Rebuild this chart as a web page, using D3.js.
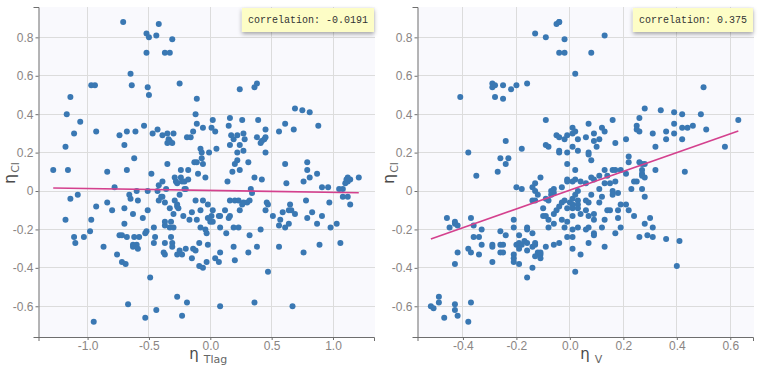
<!DOCTYPE html>
<html><head><meta charset="utf-8">
<script src="https://cdn.jsdelivr.net/npm/d3@7"></script>
<style>body{margin:0;background:#fff} svg{display:block}</style>
</head><body>
<svg id="c" width="768" height="366"></svg>
<script>
// ---- axis settings ----
const etaClTicks = [-0.6,-0.4,-0.2,0,0.2,0.4,0.6,0.8];
const etaClTickLabels = ["-0.6","-0.4","-0.2","0","0.2","0.4","0.6","0.8"];
const etaTlagTicks = [-1.0,-0.5,0,0.5,1.0];
const etaTlagTickLabels = ["-1.0","-0.5","0.0","0.5","1.0"];
const etaVTicks = [-0.4,-0.2,0,0.2,0.4,0.6];
const etaVTickLabels = ["-0.4","-0.2","0.0","0.2","0.4","0.6"];
const etaClDomain = [-0.76, 0.958];
const etaTlagDomain = [-1.40, 1.334];
const etaVDomain = [-0.570, 0.685];
const correlations = ["-0.0191", "0.375"];
const fitTlag = {intercept: 0.003, slope: -0.010};
const fitV = {intercept: 0.005, slope: 0.489};

// ---- data: [eta_Tlag, eta_Cl] ----
const tlagPoints = [
[-0.71,0.88],[-0.52,0.82],[-0.50,0.80],[-0.42,0.87],[-0.44,0.81],[-0.31,0.79],[-0.52,0.72],[-0.37,0.72],[-0.33,0.72],[-0.65,0.61],[-0.64,0.55],[-0.51,0.54],[-0.50,0.50],[-0.25,0.56],[-0.97,0.55],[-0.94,0.55],[-1.14,0.49],[-1.17,0.40],[-0.11,0.48],[-0.12,0.40],
[0.24,0.53],[0.36,0.54],[0.38,0.56],[0.69,0.43],[0.75,0.42],[0.81,0.41],[0.16,0.38],[0.26,0.37],[0.02,0.37],[0.39,0.37],
[-1.06,0.36],[-1.11,0.30],[-0.93,0.31],[-1.18,0.23],[-1.28,0.11],[-1.16,0.11],[-1.14,-0.04],[-1.08,-0.02],[-1.18,-0.15],[-1.11,-0.24],[-1.10,-0.27],[-1.03,-0.24],[-0.97,-0.15],[-0.98,-0.21],[-0.93,-0.08],[-0.87,-0.29],[-0.84,0.10],[-0.84,-0.06],[-0.80,-0.10],[-0.78,0.02],
[-0.74,0.29],[-0.70,0.24],[-0.68,0.11],[-0.68,0.31],[-0.61,0.31],[-0.62,0.17],[-0.54,0.34],[-0.43,0.32],[-0.70,-0.09],[-0.74,-0.23],[-0.72,-0.23],[-0.70,-0.17],[-0.68,-0.24],[-0.66,-0.02],[-0.65,-0.04],[-0.63,-0.12],[-0.62,-0.24],[-0.63,-0.28],[-0.60,-0.28],[-0.59,-0.05],
[-0.58,-0.24],[-0.60,0.00],[-0.55,-0.14],[-0.53,-0.22],[-0.51,0.00],[-0.51,-0.10],[-0.52,-0.21],[-0.48,0.09],[-0.47,0.30],[-0.46,-0.27],[-0.46,-0.19],[-0.45,-0.24],[-0.43,0.00],[-0.42,-0.05],[-0.42,0.03],[-0.40,-0.03],[-0.39,0.29],[-0.39,0.05],[-0.39,-0.03],[-0.37,-0.18],
[-0.37,-0.16],[-0.37,-0.27],[-0.35,0.14],[-0.35,0.25],[-0.35,0.30],[-0.34,0.27],[-0.33,0.26],[-0.31,0.25],[-0.30,0.30],[-0.36,0.01],[-0.37,-0.06],[-0.33,-0.09],[-0.30,-0.12],[-0.32,-0.16],[-0.33,-0.19],[-0.30,-0.19],[-0.32,-0.24],[-0.31,-0.27],[-0.29,0.07],[-0.28,0.05],
[-0.27,0.04],[-0.29,-0.05],[-0.27,-0.07],[-0.27,-0.08],[-0.26,-0.09],[-0.25,-0.02],[-0.24,0.07],[-0.24,0.11],[-0.23,0.05],[-0.22,-0.13],[-0.21,0.01],[-0.21,0.05],[-0.20,0.01],[-0.19,0.28],[-0.18,0.11],[-0.18,0.06],[-0.17,-0.15],[-0.16,0.28],[-0.15,-0.11],[-0.14,0.31],[-0.13,0.15],
[-0.76,-0.33],[-0.72,-0.37],[-0.69,-0.38],[-0.67,-0.59],[-0.95,-0.68],[-0.49,-0.45],[-0.53,-0.66],[-0.44,-0.62],[-0.27,-0.55],[-0.19,-0.58],[-0.23,-0.65],[-0.63,-0.29],[-0.59,-0.30],[-0.38,-0.32],[-0.37,-0.33],[-0.31,-0.29],[-0.27,-0.33],[-0.25,-0.31],[-0.23,-0.33],[-0.20,-0.30],[-0.14,-0.30],[-0.12,-0.31],[-0.15,-0.35],[-0.09,-0.39],
[-0.09,-0.27],[-0.02,-0.28],[-0.06,-0.40],[-0.03,-0.37],[0.04,-0.35],[0.07,-0.37],[0.08,-0.32],[0.19,-0.29],[0.20,-0.36],[0.31,-0.32],[0.38,-0.29],[0.56,-0.29],[0.76,-0.32],[0.89,-0.28],[1.06,-0.27],[0.47,-0.42],[0.08,-0.60],[0.36,-0.58],[0.67,-0.60],
[-0.11,0.35],[-0.06,0.33],[0.01,0.33],[0.04,0.31],[0.15,0.34],[0.17,0.29],[0.22,0.29],[0.27,0.30],[0.28,0.27],[0.38,0.28],[0.42,0.26],[0.44,0.27],[0.45,0.28],[0.45,0.32],[0.41,0.25],[0.56,0.31],[0.61,0.35],[0.68,0.32],[0.88,0.34],[0.19,0.27],[0.16,0.24],[0.24,0.24],[0.27,0.21],
[-0.08,0.22],[-0.07,0.20],[-0.07,0.17],[-0.06,0.14],[-0.01,0.20],[0.05,0.22],[-0.11,0.15],[-0.10,0.09],[-0.04,0.07],[0.14,0.05],[0.18,0.10],[0.20,0.14],[0.22,0.16],[0.24,0.11],[0.22,0.20],[0.31,0.15],[0.36,0.07],[0.42,0.06],[0.33,0.01],[0.34,-0.01],[0.45,0.20],[0.61,0.14],[0.62,0.04],
[0.79,0.15],[0.79,0.11],[0.81,0.07],[0.87,0.09],[0.76,0.05],[0.91,0.02],[0.96,0.02],[1.05,0.01],[1.08,0.01],[1.10,0.04],[1.11,0.06],[1.12,0.05],[1.14,0.06],[1.12,0.07],[1.21,0.07],[1.08,-0.03],[1.12,-0.03],[1.14,-0.07],[0.97,-0.06],[0.78,-0.05],
[-0.12,-0.05],[-0.08,-0.10],[-0.06,-0.05],[-0.02,-0.07],[0.02,-0.10],[0.01,-0.13],[-0.02,-0.14],[0.00,-0.16],[0.02,-0.16],[0.07,-0.13],[0.08,-0.13],[0.12,-0.10],[0.16,-0.13],[0.15,-0.14],[0.16,-0.05],[0.20,-0.05],[0.23,-0.05],[0.27,-0.06],[0.30,-0.06],[0.26,-0.07],[0.24,-0.10],[0.32,-0.05],
[0.46,-0.06],[0.47,-0.07],[0.45,-0.10],[0.51,-0.13],[0.59,-0.11],[0.64,-0.10],[0.65,-0.07],[0.66,-0.10],[0.69,-0.12],[0.57,-0.15],[0.64,-0.17],[0.61,-0.19],[0.56,-0.18],[0.41,-0.20],[0.32,-0.23],[0.23,-0.19],[0.19,-0.19],[0.13,-0.22],[0.08,-0.19],[-0.04,-0.20],[-0.03,-0.22],[-0.08,-0.19],[-0.11,-0.15],
[0.98,-0.19],[1.03,-0.17],[0.87,-0.17],[0.91,-0.13],[0.79,-0.14],[0.83,-0.11]
];

// ---- data: [eta_V, eta_Cl] ----
const vPoints = [
[-0.05,0.87],[-0.04,0.88],[-0.04,0.88],[-0.13,0.82],[-0.09,0.80],[-0.02,0.79],[-0.04,0.72],[-0.02,0.72],[0.02,0.61],[-0.41,0.49],[-0.29,0.56],[-0.29,0.54],[-0.28,0.55],[-0.25,0.55],[-0.28,0.49],[-0.25,0.48],[-0.22,0.53],[-0.20,0.55],[-0.16,0.56],[-0.09,0.37],
[0.13,0.81],[0.08,0.72],[0.50,0.54],[0.28,0.43],[0.34,0.42],[0.39,0.41],[0.42,0.40],[0.49,0.40],[0.26,0.38],[0.16,0.37],[0.63,0.37],
[-0.38,0.20],[-0.35,0.08],[-0.46,-0.14],[-0.45,-0.19],[-0.43,-0.16],[-0.43,-0.17],[-0.42,-0.18],[-0.37,-0.14],[-0.36,-0.18],[-0.33,-0.20],[-0.36,-0.24],[-0.34,-0.24],[-0.24,0.26],[-0.26,0.17],[-0.23,0.17],[-0.24,0.14],[-0.27,0.10],[-0.18,0.22],[-0.20,0.02],[-0.18,0.01],
[-0.21,-0.15],[-0.21,-0.19],[-0.26,-0.21],[-0.24,-0.23],[-0.19,-0.23],[-0.16,-0.19],[-0.16,-0.20],[-0.14,-0.22],[-0.14,0.02],[-0.13,0.04],[-0.13,0.00],[-0.12,-0.02],[-0.14,-0.05],[-0.13,-0.05],[-0.11,0.07],[-0.09,0.24],[-0.08,0.23],
[-0.03,0.02],[-0.06,0.01],[-0.07,0.00],[-0.06,-0.01],[-0.07,-0.02],[-0.09,-0.04],[-0.08,-0.05],[-0.10,-0.09],[-0.10,-0.13],[-0.09,-0.13],[-0.08,-0.15],[-0.06,-0.12],[-0.05,-0.10],[-0.04,-0.08],[-0.03,-0.06],[-0.02,-0.05],[-0.01,-0.09],[0.00,-0.06],[0.01,-0.04],[0.02,-0.02],[0.03,-0.05],[0.03,-0.07],
[-0.01,0.06],[-0.01,0.05],[0.01,0.05],[-0.03,-0.15],[-0.02,-0.19],[-0.01,-0.16],[0.01,-0.13],[0.01,-0.20],[0.03,-0.19],[-0.08,-0.19],[-0.06,-0.17],[-0.01,-0.24],[0.01,-0.24],
[-0.05,0.29],[-0.04,0.28],[-0.02,0.27],[-0.01,0.29],[0.01,0.30],[0.03,0.27],[-0.04,0.21],[-0.04,0.20],[-0.01,0.20],[-0.01,0.14],[0.01,0.23],[0.03,0.21],
[-0.52,-0.60],[-0.51,-0.61],[-0.49,-0.55],[-0.49,-0.58],[-0.47,-0.66],[-0.43,-0.59],[-0.43,-0.62],[-0.42,-0.65],[-0.37,-0.58],[-0.38,-0.68],[-0.43,-0.38],[-0.42,-0.32],[-0.38,-0.30],[-0.37,-0.32],[-0.34,-0.33],[-0.33,-0.28],[-0.29,-0.29],[-0.29,-0.28],[-0.29,-0.37],
[-0.26,-0.28],[-0.25,-0.28],[-0.26,-0.32],[-0.25,-0.32],[-0.21,-0.33],[-0.21,-0.35],[-0.21,-0.37],[-0.19,-0.38],[-0.20,-0.28],[-0.19,-0.27],[-0.18,-0.28],[-0.17,-0.26],[-0.16,-0.27],[-0.19,-0.30],[-0.16,-0.31],[-0.14,-0.29],[-0.13,-0.28],[-0.13,-0.27],
[-0.12,-0.32],[-0.11,-0.33],[-0.13,-0.34],[-0.11,-0.32],[-0.11,-0.35],[-0.14,-0.40],[-0.16,-0.45],[-0.09,-0.29],[-0.06,-0.28],[-0.04,-0.27],[0.01,-0.30],[0.02,-0.42],[0.04,-0.33],[0.07,-0.27],[0.13,-0.29],[0.40,-0.39],
[0.01,0.33],[0.02,0.31],[0.06,0.28],[0.07,0.35],[0.09,0.30],[0.09,0.26],[0.10,0.23],[0.11,0.27],[0.12,0.33],[0.13,0.31],[0.17,0.25],[0.21,0.27],[0.25,0.34],[0.25,0.32],[0.26,0.31],[0.31,0.30],[0.32,0.23],[0.36,0.31],[0.36,0.27],[0.39,0.35],[0.39,0.30],[0.42,0.33],[0.42,0.27],[0.44,0.33],[0.46,0.34],[0.51,0.32],[0.58,0.23],
[0.07,0.20],[0.07,0.19],[0.08,0.16],[0.02,0.11],[0.02,0.06],[0.04,0.05],[0.06,0.04],[0.08,0.07],[0.09,0.06],[0.11,0.08],[0.13,0.11],[0.14,0.08],[0.16,0.11],[0.17,0.11],[0.19,0.11],[0.21,0.09],[0.22,0.18],[0.22,0.15],[0.26,0.15],[0.27,0.14],[0.28,0.14],[0.27,0.11],[0.27,0.09],[0.27,0.08],[0.28,0.07],
[0.25,0.05],[0.24,0.05],[0.23,0.01],[0.27,0.01],[0.28,-0.03],[0.17,0.05],[0.15,0.04],[0.13,0.04],[0.16,0.00],[0.16,-0.02],[0.18,-0.01],[0.11,0.01],[0.12,-0.03],[0.11,-0.06],[0.08,-0.02],[0.07,-0.06],[0.06,-0.05],[0.03,0.00],[0.01,-0.07],[0.01,-0.09],
[0.03,-0.09],[0.04,-0.12],[0.06,-0.10],[0.07,-0.13],[0.09,-0.12],[0.09,-0.15],[0.07,-0.19],[0.06,-0.20],[0.09,-0.22],[0.09,-0.23],[0.12,-0.19],[0.13,-0.15],[0.14,-0.10],[0.15,-0.10],[0.18,-0.10],[0.18,-0.14],[0.19,-0.19],[0.17,-0.22],[0.19,-0.07],[0.21,-0.07],[0.22,-0.10],[0.24,-0.13],
[0.28,-0.17],[0.30,-0.14],[0.31,-0.19],[0.26,-0.24],[0.29,-0.23],[0.31,-0.24],[0.36,-0.25],[0.41,-0.26],[0.43,0.10],[0.32,0.11]
];

const svg = d3.select("#c");
const defs = svg.append("defs");
defs.append("filter").attr("id","sh").attr("x","-20%").attr("y","-40%").attr("width","140%").attr("height","200%")
  .append("feDropShadow").attr("dx",0).attr("dy",2).attr("stdDeviation",2.2)
  .attr("flood-color","#000").attr("flood-opacity",0.35);

const plotTop = 7, plotBottom = 337;
const yScale = d3.scaleLinear().domain(etaClDomain).range([plotBottom, plotTop]);

function panel(cfg) {
  const x = d3.scaleLinear().domain(cfg.domain).range([cfg.left, cfg.right]);
  const g = svg.append("g");
  g.append("rect").attr("x", cfg.left).attr("y", plotTop)
    .attr("width", cfg.right - cfg.left + 1).attr("height", plotBottom - plotTop)
    .attr("fill", "#f9f9fd");
  // grid
  g.append("g").selectAll("line").data(cfg.ticks).join("line")
    .attr("x1", d => x(d)).attr("x2", d => x(d)).attr("y1", plotTop).attr("y2", plotBottom)
    .attr("stroke", "#dcdcdc").attr("stroke-width", 1).attr("shape-rendering","crispEdges");
  g.append("g").selectAll("line").data(etaClTicks).join("line")
    .attr("x1", cfg.left).attr("x2", cfg.right + 1).attr("y1", d => yScale(d)).attr("y2", d => yScale(d))
    .attr("stroke", "#dcdcdc").attr("stroke-width", 1).attr("shape-rendering","crispEdges");
  // axes
  const ax = d3.axisBottom(x).tickValues(cfg.ticks)
    .tickFormat((d, i) => cfg.labels[i]).tickSizeInner(3).tickSizeOuter(4).tickPadding(1);
  const ay = d3.axisLeft(yScale).tickValues(etaClTicks)
    .tickFormat((d, i) => etaClTickLabels[i]).tickSizeInner(3).tickSizeOuter(5).tickPadding(2);
  const gx = g.append("g").attr("transform", `translate(0,${plotBottom})`).call(ax);
  const gy = g.append("g").attr("transform", `translate(${cfg.left},0)`).call(ay);
  [gx, gy].forEach(a => {
    a.selectAll("path,line").attr("stroke", "#6e6e6e");
    a.selectAll("text").attr("fill", "#8a8583").attr("font-size", "12px")
      .attr("font-family", "Liberation Sans, Arial, sans-serif");
  });
  // points
  g.append("g").selectAll("circle").data(cfg.points).join("circle")
    .attr("cx", d => x(d[0])).attr("cy", d => yScale(d[1])).attr("r", 3)
    .attr("fill", "#3a78b3");
  // regression line
  const xs = d3.extent(cfg.points, d => d[0]);
  g.append("line")
    .attr("x1", x(xs[0])).attr("y1", yScale(cfg.fit.intercept + cfg.fit.slope * xs[0]))
    .attr("x2", x(xs[1])).attr("y2", yScale(cfg.fit.intercept + cfg.fit.slope * xs[1]))
    .attr("stroke", "#d4418e").attr("stroke-width", 1.6);
  // y label
  const yl = g.append("text")
    .attr("transform", `translate(${cfg.left - 24},${173}) rotate(-90)`)
    .attr("text-anchor", "middle").attr("font-family", "DejaVu Sans, sans-serif").attr("fill", "#4a4a4a");
  yl.append("tspan").attr("font-size", "16px").text("η");
  yl.append("tspan").attr("font-size", "11px").attr("dx", 1).attr("dy", 4).attr("fill", "#666").text("Cl");
  // x label
  const xl = g.append("text")
    .attr("x", (cfg.left + cfg.right) / 2 + cfg.labelShift).attr("y", 359)
    .attr("text-anchor", "middle").attr("font-family", "DejaVu Sans, sans-serif").attr("fill", "#4a4a4a");
  xl.append("tspan").attr("font-size", "15px").text("η");
  xl.append("tspan").attr("font-size", "11px").attr("dx", 5).attr("dy", 4).attr("fill", "#666").text(cfg.sub);
  // correlation box
  const bx = g.append("g");
  const rect = bx.append("rect").attr("fill", "#fdfdc6").attr("filter", "url(#sh)");
  const t = bx.append("text").attr("font-family", "Courier New, Liberation Mono, monospace")
    .attr("font-size", "10px").attr("fill", "#333").attr("y", 22.5)
    .text("correlation: " + cfg.corr);
  const w = t.node().getComputedTextLength();
  const boxW = w + 12;
  rect.attr("x", cfg.right - boxW).attr("y", 8).attr("width", boxW).attr("height", 24);
  t.attr("x", cfg.right - boxW + 6);
}

panel({left: 38.5, right: 374, domain: etaTlagDomain, ticks: etaTlagTicks, labels: etaTlagTickLabels,
  points: tlagPoints, fit: fitTlag, sub: "Tlag", corr: correlations[0], labelShift: 2});
panel({left: 417.5, right: 753, domain: etaVDomain, ticks: etaVTicks, labels: etaVTickLabels,
  points: vPoints, fit: fitV, sub: "V", corr: correlations[1], labelShift: 6});
</script>
</body></html>
